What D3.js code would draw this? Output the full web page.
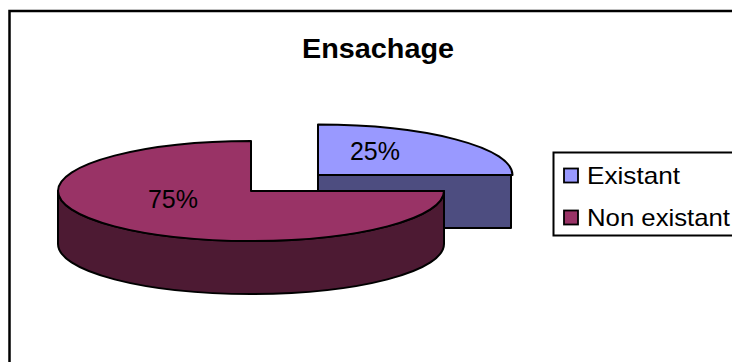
<!DOCTYPE html>
<html>
<head>
<meta charset="utf-8">
<script src="https://cdn.jsdelivr.net/npm/d3@7/dist/d3.min.js"></script>
<style>
html,body{margin:0;padding:0;background:#fff}
svg{display:block}
text{font-family:"Liberation Sans",Arial,sans-serif;fill:#000}
</style>
</head>
<body>
<script>
const title = "Ensachage";
const categories = ["Existant", "Non existant"];
const values = [25, 75];
const topColors = ["#9999ff", "#993366"];
const sideColors = ["#4d4d80", "#4d1a33"];

const width = 732, height = 362;
const rx = 193, ry = 50, depth = 53;
const centers = [{x: 318, y: 175}, {x: 251, y: 191}];

const svg = d3.select("body").append("svg").attr("width", width).attr("height", height);

// Chart frame: runs off the right and bottom of the page
svg.append("rect").attr("x", 9.5).attr("y", 11).attr("width", 760).attr("height", 400)
  .attr("fill", "#fff").attr("stroke", "#000").attr("stroke-width", 2.5);

svg.append("text").attr("x", 378).attr("y", 58).attr("text-anchor", "middle")
  .attr("textLength", 152).attr("lengthAdjust", "spacingAndGlyphs")
  .style("font-size", "28px").style("font-weight", "bold").text(title);

const slices = d3.pie().sort(null)(values);
const arc = d3.arc().innerRadius(0);
const yScale = ry / rx;
const pies = svg.append("g").attr("stroke", "#000").attr("stroke-width", 2).attr("stroke-linejoin", "round");

// Existant: flat cut face seen from the front
pies.append("rect")
  .attr("x", centers[0].x).attr("y", centers[0].y)
  .attr("width", rx).attr("height", depth)
  .attr("fill", sideColors[0]);

// Non existant: curved outer wall below the front half of the ellipse
const c1 = centers[1];
pies.append("path")
  .attr("d", `M${c1.x + rx},${c1.y}V${c1.y + depth}A${rx},${ry} 0 0 1 ${c1.x - rx},${c1.y + depth}V${c1.y}A${rx},${ry} 0 0 0 ${c1.x + rx},${c1.y}Z`)
  .attr("fill", sideColors[1]);

// Slice tops: circular arcs flattened into ellipses
slices.forEach((d, i) => {
  pies.append("path")
    .attr("d", arc.outerRadius(i === 0 ? rx + 1.5 : rx)(d))
    .attr("transform", `translate(${centers[i].x},${centers[i].y}) scale(1,${yScale})`)
    .attr("vector-effect", "non-scaling-stroke")
    .attr("fill", topColors[i]);
});

// Percentage labels
const total = d3.sum(values);
const labelPos = [[375, 160], [173, 208]];
values.forEach((v, i) => {
  svg.append("text").attr("x", labelPos[i][0]).attr("y", labelPos[i][1])
    .attr("text-anchor", "middle").style("font-size", "25px")
    .text(d3.format(".0%")(v / total));
});

// Legend box and entries
const legendRows = d3.scalePoint().domain(categories).range([175.5, 217.5]);
const legendWidths = [93, 143];
svg.append("rect").attr("x", 553.5).attr("y", 152.5).attr("width", 200).attr("height", 83)
  .attr("fill", "#fff").attr("stroke", "#000").attr("stroke-width", 2);
categories.forEach((c, i) => {
  const y = legendRows(c);
  svg.append("rect").attr("x", 564).attr("y", y - 7).attr("width", 14).attr("height", 14)
    .attr("fill", topColors[i]).attr("stroke", "#000").attr("stroke-width", 1.8);
  svg.append("text").attr("x", 587).attr("y", y + 8)
    .attr("textLength", legendWidths[i]).attr("lengthAdjust", "spacingAndGlyphs")
    .style("font-size", "24px").text(c);
});
</script>
</body>
</html>
